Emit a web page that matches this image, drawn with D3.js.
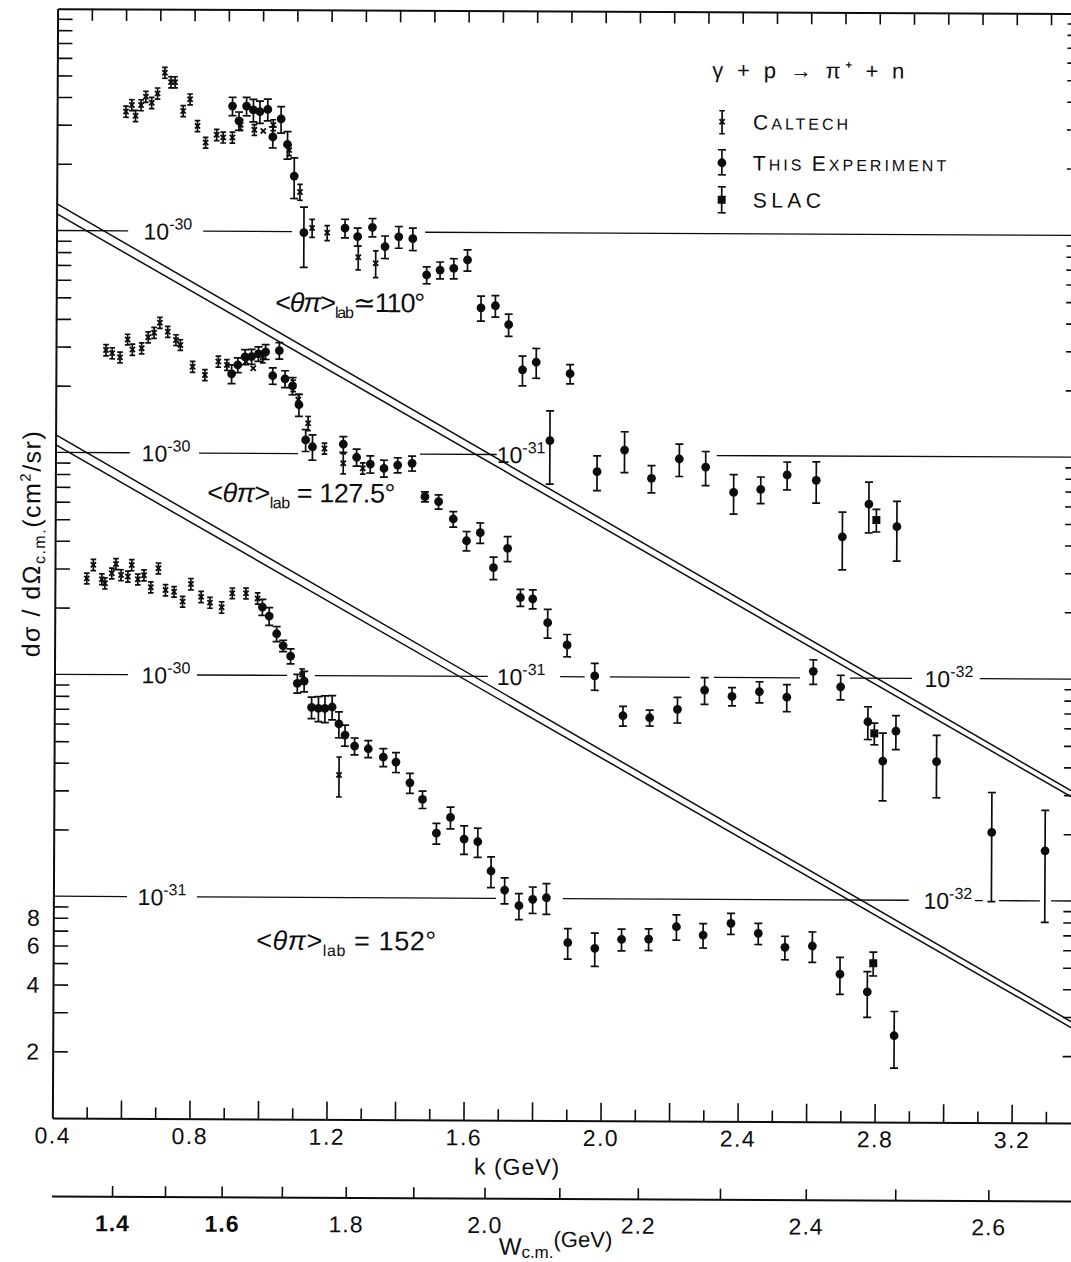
<!DOCTYPE html>
<html><head><meta charset="utf-8">
<script src="https://cdn.jsdelivr.net/npm/d3@7"></script>
<style>
body{margin:0;background:#fff;}
svg{display:block;background:#fff;}
</style></head><body>
<svg id="chart" width="1071" height="1262"></svg>
<script>
// ---------------- DATA (k in GeV; cross sections in units of 1e-30 cm^2/sr; [k, value, error]) -------------
const UNIT = 1e-30;

const caltech110 = [
 [0.601,3.45,0.20],[0.618,3.69,0.21],[0.629,3.30,0.19],[0.645,3.69,0.21],[0.659,4.03,0.23],
 [0.676,3.78,0.22],[0.693,4.17,0.24],[0.714,5.17,0.29],[0.732,4.69,0.27],[0.744,4.69,0.27],
 [0.768,3.48,0.20],[0.788,3.93,0.22],[0.810,2.98,0.17],[0.834,2.51,0.14],[0.866,2.72,0.16],
 [0.885,2.65,0.15],[0.912,2.65,0.15],[0.936,3.02,0.17],[0.976,2.87,0.16],[1.002,2.84,0],
 [1.031,3.02,0.17],[1.078,2.33,0.13],[1.110,1.51,0.125],[1.146,1.04,0.097],[1.190,0.99,0.077],
 [1.281,0.769,0.095],[1.332,0.723,0.10]
];
const exp110 = [
 [0.912,3.67,0.35],[0.931,3.15,0.30],[0.953,3.67,0.35],[0.973,3.53,0.41],[0.992,3.47,0.40],
 [1.015,3.55,0.40],[1.030,2.67,0.29],[1.054,3.22,0.44],[1.073,2.47,0.35],[1.093,1.78,0.37],
 [1.122,0.99,0.30],[1.242,1.04,0.10],[1.279,0.952,0.088],[1.322,1.05,0.10],[1.359,0.86,0.10],
 [1.399,0.953,0.107],[1.440,0.935,0.108],[1.481,0.642,0.056],[1.520,0.676,0.059],[1.560,0.689,0.072],
 [1.600,0.752,0.082],[1.640,0.458,0.059],[1.682,0.468,0.052],[1.721,0.385,0.044],[1.762,0.241,0.037],
 [1.802,0.261,0.040],[1.843,0.1157,0.042],[1.901,0.232,0.023],[1.981,0.0841,0.015],[2.061,0.1054,0.022],
 [2.140,0.0787,0.011],[2.221,0.0963,0.016],[2.298,0.0887,0.0155],[2.380,0.0683,0.0138],[2.459,0.0705,0.0097],
 [2.536,0.082,0.0118],[2.621,0.0777,0.0164],[2.698,0.0433,0.0126],[2.775,0.0608,0.0157],[2.857,0.0482,0.0145]
];
const slac110 = [[2.797,0.0516,0.006]];

const caltech127 = [
 [0.546,2.90,0.17],[0.564,2.81,0.16],[0.587,2.69,0.15],[0.609,3.24,0.18],[0.623,2.92,0.17],
 [0.650,2.96,0.17],[0.669,3.32,0.19],[0.686,3.48,0.20],[0.703,3.86,0.22],[0.726,3.52,0.20],
 [0.750,3.23,0.18],[0.763,3.07,0.17],[0.799,2.45,0.14],[0.835,2.25,0.13],[0.874,2.59,0.15],
 [0.899,2.50,0.14],[0.955,2.59,0],[0.976,2.42,0],[1.004,2.71,0.15],[1.093,2.02,0.12],
 [1.108,1.75,0.10],[1.137,1.37,0.10],[1.185,1.056,0.06],[1.240,0.906,0.094],[1.297,0.861,0.05]
];
const exp127 = [
 [0.913,2.28,0.22],[0.931,2.50,0.19],[0.952,2.72,0.21],[0.971,2.73,0.21],[0.991,2.81,0.21],
 [1.012,2.87,0.22],[1.033,2.24,0.19],[1.052,2.91,0.25],[1.069,2.17,0.19],[1.091,2.02,0.18],
 [1.110,1.66,0.19],[1.130,1.152,0.13],[1.150,1.074,0.14],[1.240,1.104,0.09],[1.279,0.965,0.085],
 [1.319,0.90,0.08],[1.359,0.862,0.075],[1.399,0.892,0.07],[1.441,0.909,0.07],[1.479,0.643,0.033],
 [1.519,0.611,0.045],[1.562,0.511,0.041],[1.601,0.408,0.041],[1.641,0.444,0.047],[1.680,0.309,0.036],
 [1.721,0.378,0.049],[1.759,0.227,0.020],[1.795,0.224,0.022],[1.839,0.175,0.026],[1.896,0.139,0.016],
 [1.977,0.101,0.014],[2.060,0.0669,0.0068],[2.138,0.0656,0.0054],[2.219,0.0717,0.0095],[2.298,0.0877,0.0121],
 [2.378,0.0823,0.0078],[2.458,0.0864,0.0094],[2.538,0.0817,0.0114],[2.615,0.1071,0.0136],[2.695,0.0913,0.0116],
 [2.775,0.0636,0.0107],[2.819,0.0423,0.0143],[2.857,0.0578,0.0101],[2.976,0.0422,0.0132],[3.138,0.0203,0.0104],
 [3.294,0.0168,0.0088]
];
const slac127 = [[2.794,0.0564,0.0063]];

const caltech152 = [
 [0.493,2.71,0.15],[0.512,3.12,0.18],[0.537,2.69,0.15],[0.546,2.58,0.15],[0.566,2.86,0.16],
 [0.578,3.15,0.18],[0.593,2.81,0.16],[0.613,2.77,0.16],[0.624,3.12,0.18],[0.642,2.69,0.15],
 [0.660,2.81,0.16],[0.680,2.48,0.14],[0.702,3.02,0.17],[0.723,2.41,0.14],[0.748,2.37,0.13],
 [0.773,2.14,0.12],[0.797,2.57,0.15],[0.827,2.25,0.13],[0.853,2.12,0.12],[0.887,2.02,0.12],
 [0.918,2.34,0.13],[0.958,2.34,0.13],[0.992,2.22,0.13],[1.123,1.01,0.06],[1.232,0.357,0.073]
];
const exp152 = [
 [1.006,2.03,0.17],[1.026,1.85,0.17],[1.048,1.54,0.12],[1.067,1.36,0.08],[1.089,1.223,0.095],
 [1.109,0.922,0.09],[1.129,0.944,0.10],[1.151,0.719,0.08],[1.171,0.712,0.092],[1.190,0.712,0.098],
 [1.211,0.722,0.09],[1.231,0.606,0.081],[1.249,0.540,0.059],[1.277,0.482,0.042],[1.317,0.469,0.041],
 [1.361,0.430,0.040],[1.398,0.409,0.042],[1.439,0.330,0.034],[1.476,0.278,0.025],[1.517,0.196,0.021],
 [1.558,0.231,0.026],[1.598,0.1846,0.027],[1.638,0.1797,0.027],[1.677,0.1327,0.021],[1.717,0.109,0.0146],
 [1.759,0.0927,0.0124],[1.799,0.0991,0.0135],[1.839,0.1008,0.0159],[1.902,0.0633,0.0099],[1.981,0.0598,0.0102],
 [2.059,0.0657,0.0074],[2.138,0.066,0.0074],[2.219,0.0751,0.0098],[2.297,0.069,0.0087],[2.378,0.078,0.0085],
 [2.458,0.0704,0.0077],[2.536,0.061,0.0074],[2.616,0.0619,0.0097],[2.697,0.0463,0.0088],[2.777,0.0386,0.009],
 [2.856,0.0245,0.007]
];
const slac152 = [[2.794,0.0519,0.0064]];

// offset factor of each angle panel on the common log axis
const panelFactor = {"110": 1, "127.5": 0.1, "152": 0.01};

// tick labels
const kTickLabels = [0.4,0.8,1.2,1.6,2.0,2.4,2.8,3.2];
const wTickValues = [1.4,1.5,1.6,1.7,1.8,1.9,2.0,2.1,2.2,2.3,2.4,2.5,2.6];
const wTickLabels = [1.4,1.6,1.8,2.0,2.2,2.4,2.6];
const yMinorLabels = [8,6,4,2];   // x 1e-32 for the 152 deg panel

// ---------------- CHART -------------
const K_MAX = 3.392;
const FONT = '"Liberation Sans", Arial, sans-serif';
const INK = '#0d0d0d';
const svg = d3.select('#chart');
const g = svg.append('g').attr('transform','rotate(0.27,560,563)')
  .attr('font-family',FONT).attr('fill',INK);

const x = d3.scaleLinear().domain([0.4, K_MAX]).range([55, 1080]);
const y = d3.scaleLog().domain([1e-29, 1e-34]).range([11, 1120.5]);
const MP = 0.9383;
const wOfK = k => Math.sqrt(MP*MP + 2*MP*k);
const w = d3.scalePow().exponent(2).domain([wOfK(0.4), wOfK(K_MAX)]).range([55, 1080]);

const tenths = d3.range(5, 34).map(i => i/10);
const evenT = tenths.filter(k => Math.round(k*10)%2===0);
const oddT = tenths.filter(k => Math.round(k*10)%2===1);
const yTicks = [];
for (let e=-34; e<=-30; e++) for (let m=2; m<=9; m++) yTicks.push(m*Math.pow(10,e));

function styleAxis(sel){
  sel.attr('font-family',FONT).attr('fill',null);
  sel.selectAll('.domain').attr('stroke',INK).attr('stroke-width',2);
  sel.selectAll('.tick line').attr('stroke',INK).attr('stroke-width',1.6);
  sel.selectAll('text').attr('fill',INK);
}

// bottom k axis
const yb = y(1e-34);
g.append('g').attr('transform',`translate(0,${yb})`)
  .call(d3.axisBottom(x).tickValues(evenT).tickSize(-18).tickSizeOuter(0).tickFormat(''))
  .call(styleAxis);
g.append('g').attr('transform',`translate(0,${yb})`)
  .call(d3.axisBottom(x).tickValues(oddT).tickSize(-11).tickSizeOuter(0).tickFormat(''))
  .call(a=>a.select('.domain').remove()).call(styleAxis);
g.append('g').attr('transform',`translate(0,${yb})`)
  .call(d3.axisBottom(x).tickValues(kTickLabels).tickSize(0).tickPadding(9).tickFormat(d3.format('.1f')))
  .call(a=>a.select('.domain').remove()).call(styleAxis)
  .attr('font-size',23).selectAll('text').attr('letter-spacing',1.5);

// top axis
g.append('g').attr('transform',`translate(0,${y(1e-29)})`)
  .call(d3.axisTop(x).tickValues(tenths).tickSize(-12).tickSizeOuter(0).tickFormat(''))
  .call(styleAxis);

// left and right axes
g.append('g').attr('transform',`translate(${x(0.4)},0)`)
  .call(d3.axisLeft(y).tickValues(yTicks).tickSize(-15).tickSizeOuter(0).tickFormat(''))
  .call(styleAxis);
g.append('g').attr('transform',`translate(${x(K_MAX)},0)`)
  .call(d3.axisRight(y).tickValues(yTicks).tickSize(-15).tickSizeOuter(0).tickFormat(''))
  .call(styleAxis);

// 8,6,4,2 labels
g.append('g').selectAll('text').data(yMinorLabels).join('text')
  .attr('x',35).attr('y',d=>y(d*1e-34)).attr('dy','0.36em')
  .attr('text-anchor','middle').attr('font-size',23).text(d=>d);

// W axis
const yw = 1199;
g.append('g').attr('transform',`translate(0,${yw})`)
  .call(d3.axisBottom(w).tickValues(wTickValues).tickSize(-11).tickSizeOuter(0).tickFormat(''))
  .call(styleAxis).select('.domain').attr('d',`M55,0H1085`);
g.append('g').attr('transform',`translate(0,${yw})`)
  .call(d3.axisBottom(w).tickValues(wTickLabels).tickSize(0).tickPadding(18).tickFormat(d3.format('.1f')))
  .call(a=>a.select('.domain').remove()).call(styleAxis)
  .attr('font-size',23).selectAll('text')
  .attr('font-weight',d=>d<=1.6?'bold':'normal').attr('letter-spacing',1);

// axis titles
g.append('text').attr('x',520).attr('y',1175).attr('text-anchor','middle')
  .attr('font-size',23).attr('letter-spacing',1).text('k (GeV)');
{
  const t = g.append('text').attr('x',502).attr('y',1255).attr('font-size',24);
  t.append('tspan').text('W');
  t.append('tspan').attr('font-size',17).attr('dy',3).text('c.m.');
  t.append('tspan').attr('font-size',22).attr('dy',-11).text('(GeV)');
}
{
  const t = g.append('text').attr('transform','translate(40,546) rotate(-90)')
    .attr('text-anchor','middle').attr('font-size',25).attr('letter-spacing',1.5);
  t.append('tspan').text('dσ / dΩ');
  t.append('tspan').attr('font-size',16).attr('dy',5).text('c.m.');
  t.append('tspan').attr('dy',-5).text('(cm');
  t.append('tspan').attr('font-size',15).attr('dy',-10).text('2');
  t.append('tspan').attr('dy',10).text('/sr)');
}

// decade reference lines (segments in k, broken around labels and data)
const refLines = [
  {value:1e-30, segs:[[0.4,0.609],[0.828,1.087],[1.476,K_MAX]], labels:[{k:0.725,exp:'-30'}]},
  {value:1e-31, segs:[[0.4,0.617],[0.819,1.108],[1.464,1.688],[2.330,K_MAX]],
     labels:[{k:0.7225,exp:'-30'},{k:1.759,exp:'-31'}]},
  {value:1e-32, segs:[[0.4,0.6145],[0.816,1.079],[1.160,1.665],[1.876,1.948],[2.021,2.255],[2.325,2.576],[2.722,2.903],[3.101,K_MAX]],
     labels:[{k:0.7255,exp:'-30'},{k:1.762,exp:'-31'},{k:3.011,exp:'-32'}]},
  {value:1e-33, segs:[[0.4,0.6148],[0.819,1.692],[1.887,2.897],[3.090,3.113],[3.160,3.280],[3.312,K_MAX]],
     labels:[{k:0.717,exp:'-31'},{k:3.011,exp:'-32'}]}
];
refLines.forEach(rl=>{
  g.append('g').selectAll('line').data(rl.segs).join('line')
    .attr('x1',d=>x(d[0])).attr('x2',d=>x(d[1]))
    .attr('y1',y(rl.value)).attr('y2',y(rl.value))
    .attr('stroke',INK).attr('stroke-width',1.3);
  rl.labels.forEach(lb=>{
    const t = g.append('text').attr('x',x(lb.k)).attr('y',y(rl.value)+8.5)
      .attr('text-anchor','middle').attr('font-size',23);
    t.append('tspan').text('10');
    t.append('tspan').attr('font-size',16).attr('dy',-10).text(lb.exp);
  });
});

// diagonal double-line separators between the panels
const dividers = [
  [[0.4,1.322e-30],[K_MAX,2.998e-33]],
  [[0.4,1.192e-30],[K_MAX,2.817e-33]],
  [[0.4,1.203e-31],[K_MAX,2.750e-34]],
  [[0.4,1.084e-31],[K_MAX,2.585e-34]]
];
g.append('g').selectAll('line').data(dividers).join('line')
  .attr('x1',d=>x(d[0][0])).attr('y1',d=>y(d[0][1]))
  .attr('x2',d=>x(d[1][0])).attr('y2',d=>y(d[1][1]))
  .attr('stroke',INK).attr('stroke-width',1.5);

// data series
function drawSeries(data, factor, type){
  const cap = type==='cal' ? 2.8 : 4;
  const grp = g.append('g');
  const pts = grp.selectAll('g').data(data).join('g')
    .attr('transform',d=>`translate(${x(d[0])},${y(d[1]*UNIT*factor)})`);
  pts.filter(d=>d[2]>0).append('path')
    .attr('d',d=>{
      const yc = y(d[1]*UNIT*factor);
      const y1 = y((d[1]+d[2])*UNIT*factor) - yc;
      const y2 = y(Math.max(d[1]-d[2], d[1]*0.05)*UNIT*factor) - yc;
      return `M0,${y1}V${y2}M${-cap},${y1}H${cap}M${-cap},${y2}H${cap}`;
    })
    .attr('stroke',INK).attr('stroke-width',1.7).attr('fill','none');
  if (type==='cal') {
    pts.append('path').attr('d','M-2.6,-2.6L2.6,2.6M-2.6,2.6L2.6,-2.6')
      .attr('stroke',INK).attr('stroke-width',1.8);
  } else if (type==='exp') {
    pts.append('circle').attr('r',4.4).attr('fill',INK);
  } else {
    pts.append('rect').attr('x',-4).attr('y',-4).attr('width',8).attr('height',8).attr('fill',INK);
  }
}
drawSeries(caltech110, panelFactor["110"], 'cal');
drawSeries(exp110, panelFactor["110"], 'exp');
drawSeries(slac110, panelFactor["110"], 'slac');
drawSeries(caltech127, panelFactor["127.5"], 'cal');
drawSeries(exp127, panelFactor["127.5"], 'exp');
drawSeries(slac127, panelFactor["127.5"], 'slac');
drawSeries(caltech152, panelFactor["152"], 'cal');
drawSeries(exp152, panelFactor["152"], 'exp');
drawSeries(slac152, panelFactor["152"], 'slac');

// angle annotations
function angleLabel(x0, yb0, rel, value, len){
  const t = g.append('text').attr('x',x0).attr('y',yb0).attr('font-size',27)
    .attr('textLength',len).attr('lengthAdjust','spacing');
  t.append('tspan').text('<');
  t.append('tspan').attr('font-style','italic').text('θπ');
  t.append('tspan').text('>');
  t.append('tspan').attr('font-size',16).attr('dy',6).text('lab');
  t.append('tspan').attr('dy',-6).text(rel + value);
}
angleLabel(274, 313, '≃', '110°', 150);
angleLabel(207, 503.5, ' = ', '127.5°', 188);
angleLabel(258, 951, ' = ', '152°', 180);

// legend
g.append('text').attr('x',710).attr('y',77).attr('font-size',22)
  .attr('textLength',192).attr('lengthAdjust','spacing').text('γ + p → π⁺ + n');
const legendRows = [
  {type:'cal', yc:121, y1:110, y2:133, big:'C', small:'ALTECH', extra:null},
  {type:'exp', yc:162, y1:149, y2:174, big:'T', small:'HIS ', extra:['E','XPERIMENT']},
  {type:'slac', yc:199, y1:186, y2:212, big:'SLAC', small:'', extra:null}
];
legendRows.forEach(r=>{
  const lg = g.append('g').attr('transform','translate(720,0)');
  const cap = r.type==='cal'?2.8:4;
  lg.append('path').attr('d',`M0,${r.y1}V${r.y2}M${-cap},${r.y1}H${cap}M${-cap},${r.y2}H${cap}`)
    .attr('stroke',INK).attr('stroke-width',1.7);
  if (r.type==='cal') lg.append('path').attr('d',`M-2.6,${r.yc-2.6}L2.6,${r.yc+2.6}M-2.6,${r.yc+2.6}L2.6,${r.yc-2.6}`).attr('stroke',INK).attr('stroke-width',1.8);
  if (r.type==='exp') lg.append('circle').attr('cy',r.yc).attr('r',4.4).attr('fill',INK);
  if (r.type==='slac') lg.append('rect').attr('x',-4).attr('y',r.yc-4).attr('width',8).attr('height',8).attr('fill',INK);
  const t = g.append('text').attr('x',751).attr('y',r.yc+7.5).attr('font-size',21)
    .attr('letter-spacing', r.type==='slac'?4.5:3);
  t.append('tspan').text(r.big);
  if (r.small) t.append('tspan').attr('font-size',16).text(r.small);
  if (r.extra){ t.append('tspan').attr('font-size',21).text(r.extra[0]); t.append('tspan').attr('font-size',16).text(r.extra[1]); }
});
</script>
</body></html>
